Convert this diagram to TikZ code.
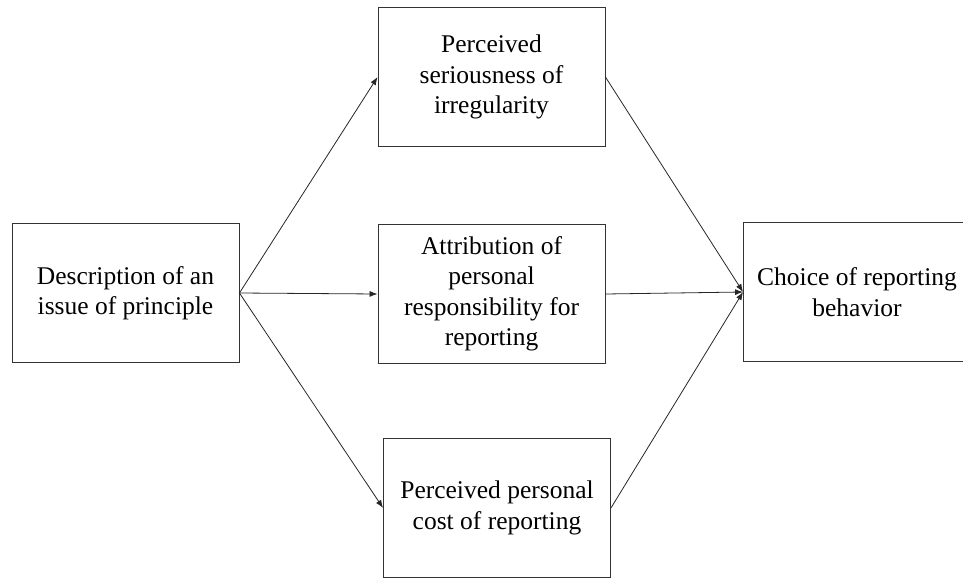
\documentclass[tikz,border=0pt]{standalone}
\usepackage{fontspec}
\setmainfont{Liberation Serif}
\usetikzlibrary{arrows.meta, positioning}
\tikzset{
    box/.style={rectangle, draw=black!80, line width=0.9pt, minimum width=227pt, minimum height=139pt, inner sep=0pt, align=center, font=\fontsize{25.5}{30.5}\selectfont},
    arrow/.style={-{Latex[length=8pt, width=6pt]}, line width=0.8pt, black!85},
}
\begin{document}
\begin{tikzpicture}[x=1pt, y=-1pt]
    \useasboundingbox (0,0) rectangle (963,578);
    \node[box] (desc) at (125.5,293) {Description of an\\issue of principle};
    \node[box] (serious) at (491.5,77) {Perceived\\seriousness of\\irregularity};
    \node[box] (attrib) at (491.5,294) {Attribution of\\personal\\responsibility for\\reporting};
    \node[box] (cost) at (497,508) {Perceived personal\\cost of reporting};
    \node[box] (choice) at (857,292) {Choice of reporting\\behavior};
    \foreach \n in {serious,attrib,cost} { \draw[arrow] (desc.east) -- (\n.west); }
    \foreach \n in {serious,attrib,cost} { \draw[arrow] (\n.east) -- (choice.west); }
\end{tikzpicture}
\end{document}
